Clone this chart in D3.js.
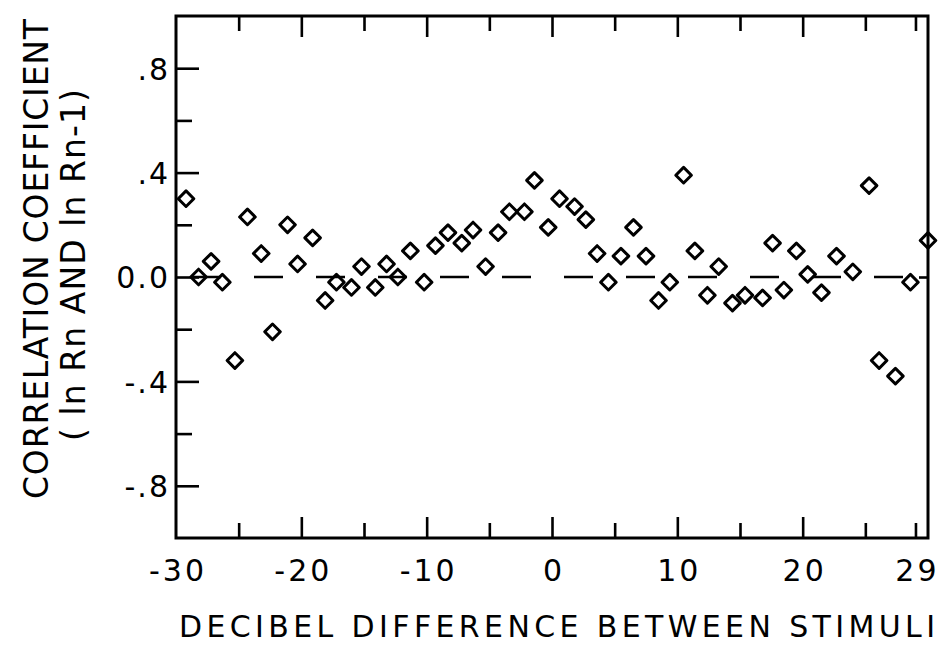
<!DOCTYPE html>
<html>
<head>
<meta charset="utf-8">
<script src="https://cdn.jsdelivr.net/npm/d3@7"></script>
<style>
  html, body { margin: 0; padding: 0; background: #fff; }
  svg { display: block; }
  text { font-family: "DejaVu Sans", "Liberation Sans", sans-serif; fill: #000; }
</style>
</head>
<body>
<svg id="chart" width="939" height="645"></svg>
<script>
// Decibel difference between stimuli (x) and correlation coefficient (y)
const dbDiff = [-29.2,-28.2,-27.2,-26.3,-25.3,-24.3,-23.2,-22.3,-21.1,-20.3,
                -19.1,-18.1,-17.2,-16.0,-15.2,-14.1,-13.2,-12.3,-11.3,-10.2,
                -9.3,-8.3,-7.2,-6.3,-5.3,-4.3,-3.4,-2.2,-1.4,-0.3,
                0.6,1.8,2.7,3.6,4.5,5.5,6.5,7.5,8.5,9.4,
                10.5,11.4,12.4,13.3,14.4,15.4,16.8,17.6,18.5,19.5,
                20.4,21.5,22.7,24.0,25.3,26.1,27.4,28.6,30.0];
const corr = [0.30,0.00,0.06,-0.02,-0.32,0.23,0.09,-0.21,0.20,0.05,
              0.15,-0.09,-0.02,-0.04,0.04,-0.04,0.05,0.00,0.10,-0.02,
              0.12,0.17,0.13,0.18,0.04,0.17,0.25,0.25,0.37,0.19,
              0.30,0.27,0.22,0.09,-0.02,0.08,0.19,0.08,-0.09,-0.02,
              0.39,0.10,-0.07,0.04,-0.10,-0.07,-0.08,0.13,-0.05,0.10,
              0.01,-0.06,0.08,0.02,0.35,-0.32,-0.38,-0.02,0.14];

const xLabelTicks = [-30, -20, -10, 0, 10, 20, 29];
const xMajorTicks = [-20, -10, 0, 10, 20];
const xMinorTicks = [-25, -15, -5, 5, 15, 25, 29];
const yLabelTicks = [0.8, 0.4, 0.0, -0.4, -0.8];
const yLabelText = [".8", ".4", "0.0", "-.4", "-.8"];
const yMinorTicks = [0.6, 0.2, -0.2, -0.6];
const xTitle = "DECIBEL DIFFERENCE BETWEEN STIMULI";
const yTitle1 = "CORRELATION COEFFICIENT";
const yTitle2 = "( ln Rn AND ln Rn-1)";

const svg = d3.select("#chart");
const x = d3.scaleLinear().domain([-30, 30]).range([176, 928]);
const y = d3.scaleLinear().domain([-1, 1]).range([538, 16]);

const styleAxis = g => {
  g.select(".domain").remove();
  g.selectAll(".tick line").attr("stroke", "#000").attr("stroke-width", 2.6);
};

// zero reference dashed line
svg.append("line")
  .attr("x1", x(-30)).attr("x2", x(30))
  .attr("y1", y(0)).attr("y2", y(0))
  .attr("stroke", "#000").attr("stroke-width", 2.6)
  .attr("stroke-dasharray", "29,33")
  .attr("stroke-dashoffset", -16);

// bottom ticks (pointing up)
svg.append("g").attr("transform", `translate(0,${y(-1)})`)
  .call(d3.axisBottom(x).tickValues(xMajorTicks).tickSize(-21).tickFormat(""))
  .call(styleAxis);
svg.append("g").attr("transform", `translate(0,${y(-1)})`)
  .call(d3.axisBottom(x).tickValues(xMinorTicks).tickSize(-15).tickFormat(""))
  .call(styleAxis);
// bottom labels
const xl = svg.append("g").attr("transform", `translate(0,${y(-1)})`)
  .call(d3.axisBottom(x).tickValues(xLabelTicks).tickSize(0).tickPadding(0).tickFormat(d => String(d)))
  .call(styleAxis);
xl.selectAll("text")
  .attr("font-size", 30).attr("dy", 0).attr("y", 43)
  .attr("font-family", "DejaVu Sans")
  .style("letter-spacing", "3px")
  .attr("dx", 1.5);

// top ticks (pointing down)
svg.append("g").attr("transform", `translate(0,${y(1)})`)
  .call(d3.axisTop(x).tickValues(xMajorTicks).tickSize(-21).tickFormat(""))
  .call(styleAxis);
svg.append("g").attr("transform", `translate(0,${y(1)})`)
  .call(d3.axisTop(x).tickValues(xMinorTicks).tickSize(-15).tickFormat(""))
  .call(styleAxis);

// left ticks (pointing right)
const yl = svg.append("g").attr("transform", `translate(${x(-30)},0)`)
  .call(d3.axisLeft(y).tickValues(yLabelTicks).tickSize(-23).tickPadding(8)
        .tickFormat((d, i) => yLabelText[i]))
  .call(styleAxis);
yl.selectAll("text")
  .attr("font-size", 30).attr("font-family", "DejaVu Sans")
  .attr("x", -6).attr("dy", "0.36em")
  .style("letter-spacing", "2px");
svg.append("g").attr("transform", `translate(${x(-30)},0)`)
  .call(d3.axisLeft(y).tickValues(yMinorTicks).tickSize(-16).tickFormat(""))
  .call(styleAxis);
// right tick at zero
svg.append("g").attr("transform", `translate(${x(30)},0)`)
  .call(d3.axisRight(y).tickValues([0]).tickSize(-9).tickFormat(""))
  .call(styleAxis);

// frame
svg.append("rect")
  .attr("x", x(-30)).attr("y", y(1))
  .attr("width", x(30) - x(-30)).attr("height", y(-1) - y(1))
  .attr("fill", "none").attr("stroke", "#000").attr("stroke-width", 3);

// diamonds
const sym = d3.symbol().type(d3.symbolSquare).size(122);
svg.append("g").selectAll("path")
  .data(dbDiff.map((d, i) => ({ x: d, r: corr[i] })))
  .join("path")
  .attr("d", sym)
  .attr("transform", d => `translate(${x(d.x)},${y(d.r)}) rotate(45)`)
  .attr("fill", "none")
  .attr("stroke", "#000")
  .attr("stroke-width", 3)
  .attr("stroke-linejoin", "round");

// x title
svg.append("text")
  .attr("x", 179).attr("y", 637)
  .attr("font-size", 30)
  .attr("textLength", 756).attr("lengthAdjust", "spacing")
  .text(xTitle);

// y titles
svg.append("text")
  .attr("transform", "translate(48,259) rotate(-90)")
  .attr("text-anchor", "middle")
  .attr("font-size", 33)
  .attr("textLength", 480).attr("lengthAdjust", "spacing")
  .text(yTitle1);
svg.append("text")
  .attr("transform", "translate(85,265) rotate(-90)")
  .attr("text-anchor", "middle")
  .attr("font-size", 33)
  .attr("textLength", 352).attr("lengthAdjust", "spacing")
  .text(yTitle2);
</script>
</body>
</html>
